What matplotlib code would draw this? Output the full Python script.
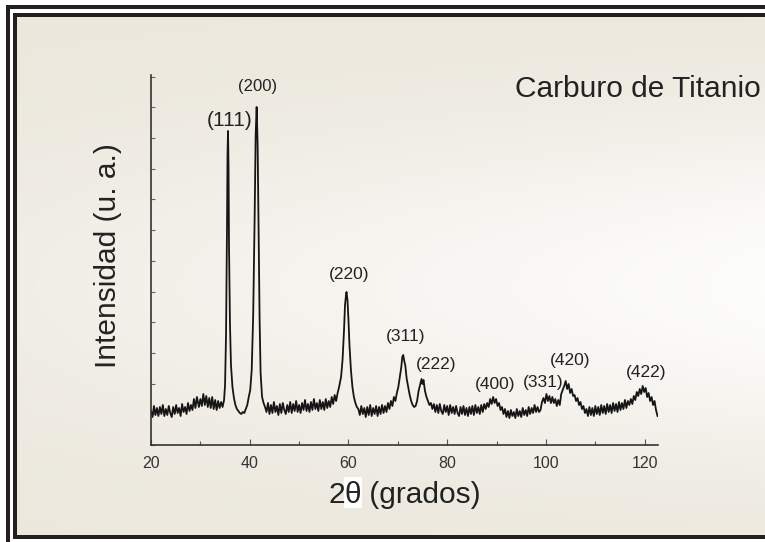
import numpy as np
import matplotlib
matplotlib.use("Agg")
import matplotlib.pyplot as plt
from matplotlib.patches import Rectangle
from matplotlib.ticker import MultipleLocator
from matplotlib import font_manager

# difractograma de TiC: 2theta (grados) e intensidad (u. a.) por tramos
two_theta = [
    20.0, 20.3, 20.6, 20.9, 21.2, 21.5, 21.8, 22.1, 22.4, 22.7, 23.0, 23.3, 23.6, 23.9, 24.2, 24.5, 24.8,
    25.1, 25.4, 25.7, 26.0, 26.3, 26.6, 26.9, 27.2, 27.5, 27.8, 28.1, 28.4, 28.7, 29.0, 29.3, 29.7, 30.0,
    30.3, 30.6, 30.9, 31.2, 31.5, 31.8, 32.1, 32.4, 32.7, 33.0, 33.3, 33.6, 33.9, 34.2, 34.5,
    34.8, 35.0, 35.2, 35.4, 35.5, 35.6, 35.7, 35.8, 36.0, 36.2, 36.5, 36.8, 37.1, 37.4, 37.7, 38.0,
    38.3, 38.6, 38.9, 39.2, 39.5, 39.8,
    40.1, 40.4, 40.7, 41.0, 41.2, 41.4, 41.6, 41.8, 42.0, 42.2, 42.5, 42.8, 43.1,
    43.4, 43.7, 44.0, 44.3, 44.6, 44.9, 45.2, 45.5, 45.8, 46.1, 46.4, 46.7, 47.0, 47.3, 47.6, 47.9,
    48.2, 48.5, 48.8, 49.1, 49.4, 49.7, 50.0, 50.3, 50.6, 50.9, 51.2, 51.5, 51.8, 52.1, 52.4, 52.7,
    53.0, 53.3, 53.6, 53.9, 54.2, 54.5, 54.8, 55.1, 55.4, 55.7, 56.0, 56.3, 56.6, 56.9, 57.2, 57.5, 57.8,
    58.1, 58.5, 58.8, 59.1, 59.3, 59.5, 59.6, 59.8, 60.0, 60.2, 60.5, 60.8, 61.1, 61.4, 61.7, 62.0,
    62.3, 62.6, 62.9, 63.2, 63.5, 63.8, 64.1, 64.4, 64.7, 65.0, 65.3, 65.6, 65.9, 66.2, 66.5, 66.8,
    67.1, 67.4, 67.7, 68.0, 68.3, 68.6, 68.9, 69.2, 69.5, 69.8,
    70.1, 70.4, 70.7, 70.9, 71.1, 71.3, 71.5, 71.8, 72.1, 72.4, 72.7, 73.0, 73.3, 73.6, 73.9, 74.2,
    74.5, 74.8, 75.0, 75.2, 75.5, 75.8, 76.1, 76.4, 76.7, 77.0,
    77.3, 77.6, 77.9, 78.2, 78.5, 78.8, 79.1, 79.4, 79.7, 80.0, 80.3, 80.6, 80.9, 81.2, 81.5, 81.8,
    82.1, 82.4, 82.7, 83.0, 83.3, 83.6, 83.9, 84.2, 84.5, 84.8, 85.1, 85.4, 85.7, 86.0, 86.3, 86.6,
    86.9, 87.2, 87.5, 87.8,
    88.1, 88.4, 88.7, 89.0, 89.3, 89.6, 89.9, 90.2, 90.5, 90.8, 91.1, 91.4, 91.7, 92.0, 92.3, 92.6,
    92.9, 93.2, 93.5, 93.8, 94.1, 94.4, 94.7, 95.0, 95.3, 95.6, 95.9, 96.2, 96.5, 96.8, 97.1, 97.4,
    97.7, 98.0, 98.3, 98.6,
    98.9, 99.2, 99.5, 99.8, 100.1, 100.4, 100.7, 101.0, 101.3, 101.6, 101.9, 102.2, 102.5, 102.8,
    103.1, 103.4, 103.7, 104.0, 104.3, 104.6, 104.9, 105.2, 105.5, 105.8, 106.1, 106.4, 106.7, 107.0,
    107.3, 107.6, 107.9,
    108.2, 108.5, 108.8, 109.1, 109.4, 109.7, 110.0, 110.3, 110.6, 110.9, 111.2, 111.5, 111.8, 112.1,
    112.4, 112.7, 113.0, 113.3, 113.6, 113.9, 114.2, 114.5, 114.8, 115.1, 115.4, 115.7, 116.0, 116.3,
    116.6, 116.9,
    117.2, 117.5, 117.8, 118.1, 118.4, 118.7, 119.0, 119.3, 119.6, 119.9, 120.2, 120.5, 120.8, 121.1,
    121.4, 121.7, 122.0, 122.3, 122.6,
]
intensity = [
    34, 28, 39, 30, 37, 29, 38, 31, 40, 29, 36, 30, 39, 32, 28, 38, 31,
    40, 32, 37, 29, 41, 33, 38, 31, 42, 34, 40, 35, 46, 37, 48, 38, 46,
    39, 51, 40, 49, 38, 47, 37, 48, 36, 45, 35, 44, 37, 43, 38,
    45, 60, 110, 220, 290, 314, 280, 200, 120, 80, 58, 47, 40, 36, 34, 32,
    31, 33, 32, 36, 40, 48,
    55, 75, 130, 230, 310, 338, 300, 210, 125, 72, 48, 42, 38,
    33, 42, 31, 40, 32, 43, 33, 39, 30, 41, 32, 42, 35, 31, 40, 33,
    43, 32, 41, 34, 44, 33, 40, 32, 42, 35, 45, 34, 41, 33, 43, 35,
    46, 36, 42, 34, 45, 36, 43, 35, 46, 37, 44, 38, 48, 41, 50, 44, 52,
    58, 68, 85, 115, 140, 150, 153, 145, 125, 100, 75, 58, 48, 42, 38, 36,
    30, 39, 31, 37, 28, 38, 30, 40, 29, 37, 31, 39, 29, 38, 31, 40,
    32, 39, 33, 42, 36, 44, 39, 48, 44, 52,
    58, 68, 78, 88, 90, 84, 80, 66, 58, 50, 44, 40, 38, 39, 44, 54,
    60, 66, 61, 65, 54, 48, 44, 40, 42, 36,
    41, 33, 40, 32, 41, 34, 31, 40, 33, 39, 30, 40, 32, 38, 31, 39,
    32, 29, 38, 31, 39, 30, 37, 29, 38, 31, 39, 30, 40, 32, 38, 31,
    40, 33, 41, 36,
    42, 38, 46, 41, 48, 42, 46, 39, 42, 35, 38, 31, 36, 28, 34, 27,
    35, 29, 33, 27, 36, 29, 34, 28, 37, 30, 35, 29, 38, 31, 37, 32,
    40, 33, 38, 33,
    35, 43, 47, 42, 51, 44, 49, 42, 48, 42, 46, 39, 45, 40,
    51, 55, 59, 64, 56, 61, 52, 56, 49, 50, 44, 47, 40, 43,
    36, 39, 32,
    36, 29, 38, 30, 37, 29, 39, 31, 38, 30, 40, 32, 39, 31,
    41, 33, 40, 32, 42, 34, 41, 33, 43, 35, 42, 36, 45, 37,
    44, 40,
    46, 41, 49, 45, 53, 49, 56, 51, 59, 53, 57, 48, 52, 44,
    48, 40, 44, 35, 29,
]
assert len(two_theta) == len(intensity)

# indices de Miller de cada pico
hkl = ["(111)", "(200)", "(220)", "(311)", "(222)", "(400)", "(331)", "(420)", "(422)"]
# posicion de cada rotulo (2theta, intensidad) y su tamano
label_pos = [(36.0, 325), (41.55, 359), (60.1, 170), (71.6, 108), (77.7, 81),
             (89.8, 60), (99.4, 62), (104.8, 85), (120.2, 73)]
label_size = [15, 12, 12.5, 12.5, 12.5, 12.5, 12.5, 12.5, 12.5]

plt.rcParams['font.family'] = ['Liberation Sans', 'DejaVu Sans']
names = {f.name for f in font_manager.fontManager.ttflist}
tick_family = 'Liberation Sans Narrow' if 'Liberation Sans Narrow' in names else 'Liberation Sans'

W, H = 765, 542
fig = plt.figure(figsize=(W / 100, H / 100), dpi=100, facecolor='white')

# fondo: marco doble y degradado crema
bg = fig.add_axes([0, 0, 1, 1], zorder=-5)
bg.set_xlim(0, W)
bg.set_ylim(H, 0)
bg.axis('off')
gh, gw = 259, 374
yy, xx = np.mgrid[0:1:gh * 1j, 0:1:gw * 1j]
w = np.exp(-((yy - 0.52) / 0.33) ** 2) * (0.3 + 0.7 * xx)
beige = np.array([235, 231, 220]) / 255.0
img = beige + (1.0 - beige) * (0.92 * w)[..., None]
bg.imshow(img, extent=(17, W, 535, 17), aspect='auto', interpolation='bilinear')
dark = '#231f20'
bg.add_patch(Rectangle((6, 5), 4, H, color=dark, lw=0))
bg.add_patch(Rectangle((6, 5), W, 4, color=dark, lw=0))
bg.add_patch(Rectangle((13, 13), 4, 526, color=dark, lw=0))
bg.add_patch(Rectangle((13, 13), W, 4, color=dark, lw=0))
bg.add_patch(Rectangle((13, 535), W, 4, color=dark, lw=0))

ax = fig.add_axes([151 / W, 1 - 445 / H, 507 / W, 370 / H])
ax.patch.set_alpha(0)
ax.plot(two_theta, intensity, color='#151515', lw=1.3)
ax.set_xlim(20, 122.7)
ax.set_ylim(0, 370)

for s in ['top', 'right']:
    ax.spines[s].set_visible(False)
for s in ['left', 'bottom']:
    ax.spines[s].set_color('#333333')
    ax.spines[s].set_linewidth(1.2)

ax.xaxis.set_major_locator(MultipleLocator(20))
ax.xaxis.set_minor_locator(MultipleLocator(10))
ax.yaxis.set_major_locator(MultipleLocator(30.7))
ax.tick_params(axis='x', which='both', direction='in', color='#555555', width=0.8, pad=8,
               labelsize=11.5, labelcolor='#333333')
ax.tick_params(axis='x', which='major', length=4)
ax.tick_params(axis='x', which='minor', length=3)
ax.tick_params(axis='y', direction='in', length=3, width=0.8, color='#666666', labelleft=False)
for t in ax.get_xticklabels():
    t.set_family(tick_family)

for txt, (px, py), fs in zip(hkl, label_pos, label_size):
    ax.text(px, py, txt, ha='center', va='center', fontsize=fs, color='#222222')

fig.text(515 / W, 1 - 97 / H, 'Carburo de Titanio', fontsize=21.5, color='#222222',
         ha='left', va='baseline')
fig.text(108 / W, 1 - 256 / H, 'Intensidad (u. a.)', fontsize=21.5, color='#222222',
         rotation=90, ha='center', va='center')

# rotulo del eje x armado por partes: la theta va sobre un recuadro blanco
r = fig.canvas.get_renderer()
base_y = 1 - 503 / H
parts = []
for s in ['2', 'θ', ' (grados)']:
    t = fig.text(0, base_y, s, fontsize=21.5, color='#222222', ha='left', va='baseline')
    parts.append(t)
widths = [p.get_window_extent(r).width for p in parts]
x0 = 404.5 - sum(widths) / 2
for p, wd in zip(parts, widths):
    p.set_x(x0 / W)
    if p is parts[1]:
        bg.add_patch(Rectangle((x0 - 1, 477), wd + 2, 31, color='white', lw=0))
    x0 += wd

fig.savefig('out.png', dpi=100, facecolor='white')
